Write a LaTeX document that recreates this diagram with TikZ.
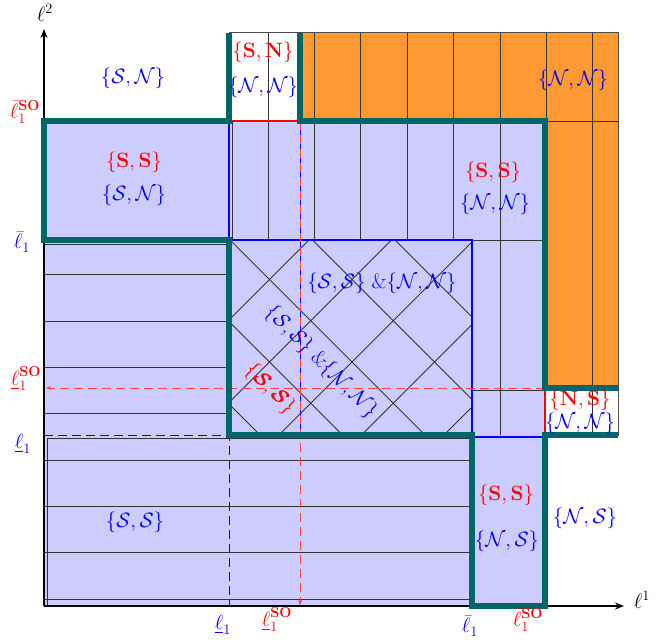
\documentclass[tikz,border=0pt]{standalone}
\usepackage{amsmath}
\usetikzlibrary{arrows.meta}
\definecolor{lav}{HTML}{CCCCFF}
\definecolor{org}{HTML}{FF9933}
\definecolor{tl}{HTML}{006666}
\begin{document}
\begin{tikzpicture}[x=1pt,y=-1pt,
  lbl/.style={font=\fontsize{20.74}{25}\selectfont, inner sep=0pt},
  axl/.style={font=\fontsize{20.74}{25}\selectfont, inner sep=0pt},
  thinl/.style={black!80, line width=0.8pt},
  tealb/.style={tl, line width=6pt, line join=miter},
  bl/.style={blue, line width=1.8pt},
  rl/.style={red, line width=1.8pt},
  rdash/.style={red!75, line width=1pt, dash pattern=on 9pt off 5pt},
  bdash/.style={blue, line width=1pt, dash pattern=on 9pt off 5pt},
  axis/.style={black, line width=1.6pt, -{Stealth[length=9pt,width=7pt]}}]
\useasboundingbox (0,0) rectangle (662,642);
% fills
\fill[lav] (44,121) rectangle (545,606);
\fill[org] (300,33) rectangle (618,121);
\fill[org] (545,121) rectangle (618,388);
% vertical hatch lines
\foreach \x in {268,314.4,360.8,407.2,453.6} \draw[thinl] (\x,33) -- (\x,240);
\draw[thinl] (232,121) -- (232,240);
\draw[thinl] (500,33) -- (500,435);
\draw[thinl] (546.4,33) -- (546.4,121);
\draw[thinl] (592.8,33) -- (592.8,435);
\draw[black!70, line width=1pt] (229,33) -- (618,33) -- (618,435) -- (545,435);
\draw[thinl] (545,121) -- (618,121);
\draw[thinl] (472,240) -- (545,240);
\draw[thinl] (472,390) -- (545,390);
% horizontal hatch lines
\foreach \y in {244,274,321,367,413} \draw[thinl] (44,\y) -- (229,\y);
\foreach \y in {460,506,552,599} \draw[thinl] (44,\y) -- (472,\y);
\draw[thinl] (47,606) -- (47,438) -- (472,438);
% diamond hatch
\begin{scope}
\clip (229,240) rectangle (472,435);
\foreach \c in {-175,-92.5,-10,72.5,155} \draw[thinl] ({\c+200},200) -- ({\c+500},500);
\foreach \d in {549,631.5,714,796.5,879} \draw[thinl] ({\d-200},200) -- ({\d-500},500);
\end{scope}
% blue lines
\draw[bl] (229,121) -- (229,240);
\draw[bl] (229,240) -- (472,240) -- (472,437) -- (545,437);
\draw[bl] (545,437) -- (618,437);
\draw[blue, line width=0.9pt] (300,121) -- (300,435);
% red lines
\draw[rl] (229,121) -- (300,121);
\draw[rl] (545,388) -- (545,435);
% dashed guides
\draw[bdash] (44,435) -- (229,435) -- (229,606);
\draw[rdash, -{Stealth[length=5pt,width=4pt]}] (545,388) -- (46,388);
\draw[rdash, -{Stealth[length=5pt,width=4pt]}] (300,121) -- (300,605);
% axes
\coordinate (O) at (44,606);
\coordinate (X) at (624,606);
\coordinate (Y) at (44,29);
\draw[axis] (O) -- (X);
\draw[axis] (O) -- (Y);
% teal boundaries
\draw[tealb] (229,33) -- (229,121) -- (44,121) -- (44,240) -- (229,240) -- (229,435) -- (472,435) -- (472,606) -- (545,606) -- (545,435) -- (618,435);
\draw[tealb] (300,33) -- (300,121) -- (545,121) -- (545,388) -- (618,388);
% axis labels
\node[axl] (l2) at (45,13) {$\ell^2$};
\node[axl] (l1) at (642,600) {$\ell^1$};
\node[axl, red] (ybso) at (25,112) {$\bar\ell_1^{\mathbf{SO}}$};
\node[axl, blue] (yb) at (22,242) {$\bar\ell_1$};
\node[axl, red] (yuso) at (26,379) {$\underline\ell_1^{\mathbf{SO}}$};
\node[axl, blue] (yu) at (23,444) {$\underline\ell_1$};
\node[axl, blue] (xu) at (223,625) {$\underline\ell_1$};
\node[axl, red] (xuso) at (277,620) {$\underline\ell_1^{\mathbf{SO}}$};
\node[axl, blue] (xb) at (470,626) {$\bar\ell_1$};
\node[axl, red] (xbso) at (528,620) {$\bar\ell_1^{\mathbf{SO}}$};
% region labels
\node[lbl, blue] (t1) at (133,78) {$\{\mathcal{S},\mathcal{N}\}$};
\node[lbl, red] (t2) at (134,162) {$\{\mathbf{S},\mathbf{S}\}$};
\node[lbl, blue] (t3) at (134,195) {$\{\mathcal{S},\mathcal{N}\}$};
\node[lbl, red] (t4) at (263,52) {$\{\mathbf{S},\mathbf{N}\}$};
\node[lbl, blue] (t5) at (263,87) {$\{\mathcal{N},\mathcal{N}\}$};
\node[lbl, blue] (t6) at (573,80) {$\{\mathcal{N},\mathcal{N}\}$};
\node[lbl, red] (t7) at (493,172) {$\{\mathbf{S},\mathbf{S}\}$};
\node[lbl, blue] (t8) at (495,204) {$\{\mathcal{N},\mathcal{N}\}$};
\node[lbl, blue] (t9) at (382,283) {$\{\mathcal{S},\mathcal{S}\}\ \&\{\mathcal{N},\mathcal{N}\}$};
\node[lbl, blue, rotate=-45] (t10) at (321,362) {$\{\mathcal{S},\mathcal{S}\}\ \&\{\mathcal{N},\mathcal{N}\}$};
\node[lbl, red, rotate=-45] (t11) at (270,389) {$\{\boldsymbol{\mathcal{S}},\boldsymbol{\mathcal{S}}\}$};
\node[lbl, red] (t12) at (580,400) {$\{\mathbf{N},\mathbf{S}\}$};
\node[lbl, blue] (t13) at (580,423) {$\{\mathcal{N},\mathcal{N}\}$};
\node[lbl, red] (t14) at (506,495) {$\{\mathbf{S},\mathbf{S}\}$};
\node[lbl, blue] (t15) at (507,541) {$\{\mathcal{N},\mathcal{S}\}$};
\node[lbl, blue] (t16) at (585,518) {$\{\mathcal{N},\mathcal{S}\}$};
\node[lbl, blue] (t17) at (135,522) {$\{\mathcal{S},\mathcal{S}\}$};
\end{tikzpicture}
\end{document}
